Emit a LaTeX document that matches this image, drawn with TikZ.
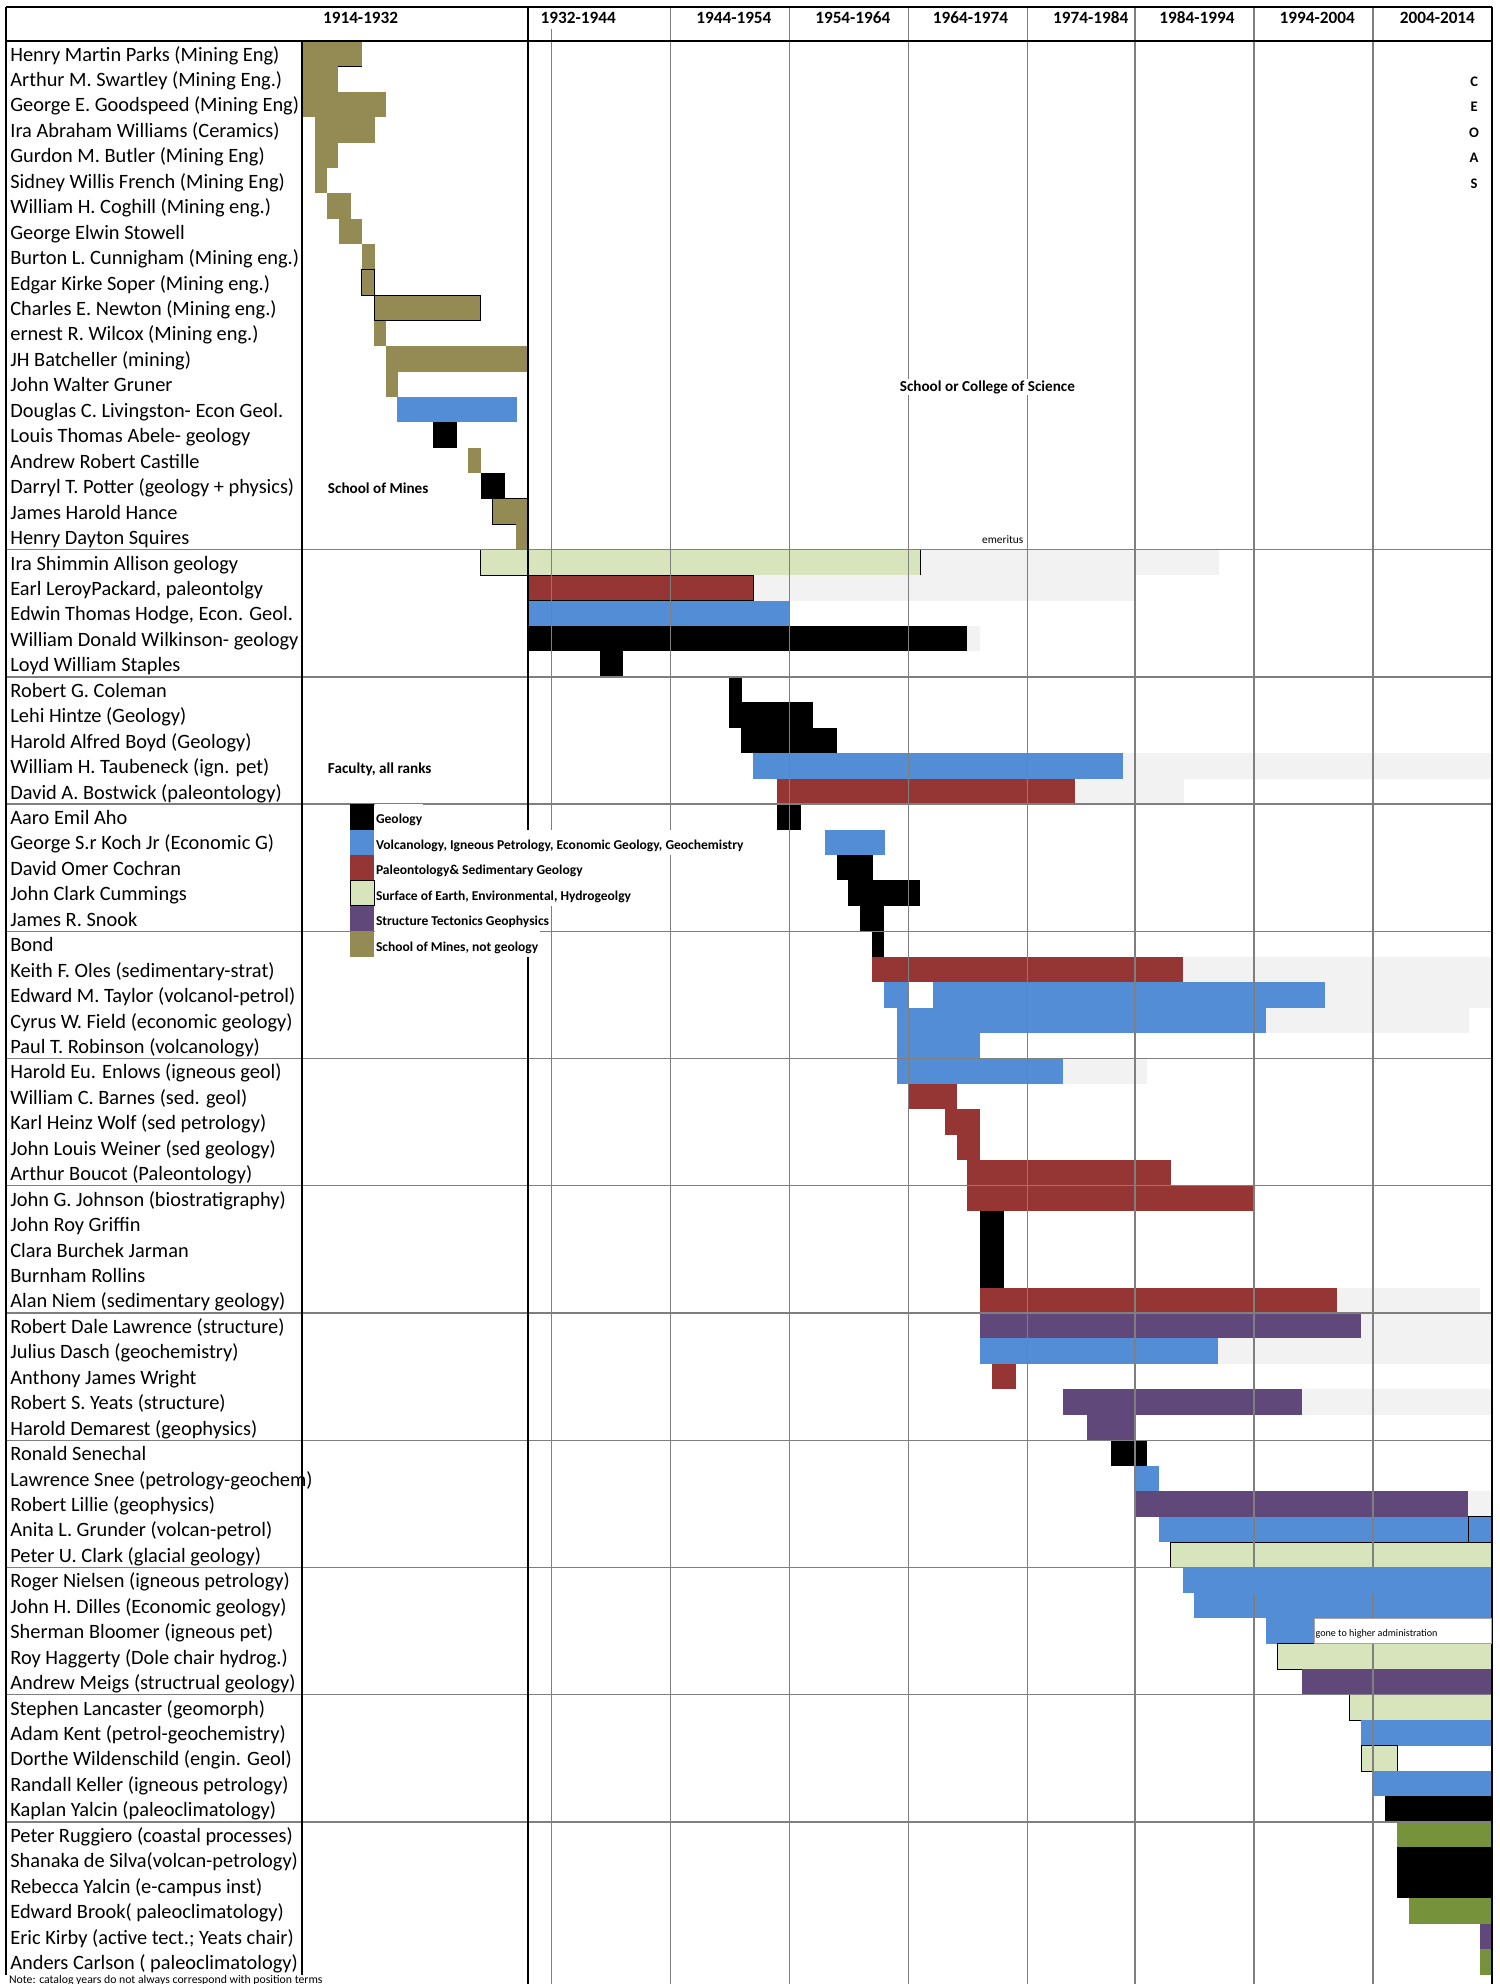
\documentclass[tikz,border=0pt]{standalone}
\usepackage{fontspec}
\setmainfont{Carlito}
\definecolor{minesolive}{HTML}{948A54}
\definecolor{volcblue}{HTML}{538DD5}
\definecolor{paleored}{HTML}{963634}
\definecolor{surfgreen}{HTML}{D8E4BC}
\definecolor{structpurple}{HTML}{60497A}
\definecolor{emergray}{HTML}{F2F2F2}
\definecolor{coastgreen}{HTML}{76933C}
\definecolor{gridgray}{HTML}{7F7F7F}
\tikzset{
  mines/.style={fill=minesolive},
  geo/.style={fill=black},
  volc/.style={fill=volcblue},
  paleo/.style={fill=paleored},
  surf/.style={fill=surfgreen,draw=black,line width=0.7pt},
  struct/.style={fill=structpurple},
  emer/.style={fill=emergray},
  coast/.style={fill=coastgreen},
  boxed/.style={draw=black,line width=0.7pt},
  gridline/.style={draw=gridgray,line width=1pt},
  frameline/.style={draw=black,line width=1.6pt},
  person/.style={anchor=base west,inner sep=0pt,font=\fontsize{16.1}{18}\selectfont},
  yearhead/.style={inner sep=0pt,font=\bfseries\fontsize{13.6}{15}\selectfont},
  chartnote/.style={anchor=base west,inner sep=1pt,fill=white,font=\bfseries\fontsize{12}{13}\selectfont},
  keytext/.style={anchor=base west,inner xsep=1pt,inner ysep=0pt,fill=white,text height=15.7pt,text depth=4.4pt,font=\bfseries\fontsize{10.7}{12}\selectfont},
  ceoas/.style={anchor=base,inner sep=0pt,font=\bfseries\fontsize{11.5}{13}\selectfont}
}
\begin{document}
\begin{tikzpicture}[x=1pt,y=-20.11pt]
 \useasboundingbox (0,-1.601) rectangle (1185,76.37);
 % school of mines
 \fill[mines](239,0) rectangle (286.3,1);
 \draw[black,line width=0.6pt](239,1)--(286.3,1);
 \fill[mines](239,1) rectangle (267.4,2);
 \fill[mines](239,2) rectangle (305.4,3);
 \fill[mines](248.7,3) rectangle (296,4);
 \fill[mines](248.7,4) rectangle (267.4,5);
 \fill[mines](248.7,5) rectangle (258.7,6);
 \fill[mines](258.2,6) rectangle (277.1,7);
 \fill[mines](267.6,7) rectangle (286.3,8);
 \fill[mines](286,8) rectangle (296,9);
 \fill[mines,boxed](286,9) rectangle (296,10);
 \fill[mines,boxed](295.7,10) rectangle (380,11);
 \fill[mines](295.5,11) rectangle (305.4,12);
 \fill[mines](305,12) rectangle (417,13);
 \fill[mines](305,13) rectangle (314.6,14);
 \fill[volc](314.1,14) rectangle (408.6,15);
 \fill[geo](342.5,15) rectangle (361.1,16);
 \fill[mines](370,16) rectangle (380,17);
 \fill[geo](380.3,17) rectangle (399.2,18);
 \fill[mines,boxed](389.2,18) rectangle (417,19);
 \fill[mines](407.9,19) rectangle (417,20);
 % 1932-1954
 \fill[emer](727.5,20) rectangle (963.4,21);
 \fill[surf](379.7,20) rectangle (727.5,21);
 \fill[emer](596,21) rectangle (896.6,22);
 \fill[paleo,boxed](417,21) rectangle (595.5,22);
 \fill[volc](417,22) rectangle (624,23);
 \fill[emer](764.5,23) rectangle (774.7,24);
 \fill[geo](417,23) rectangle (764.5,24);
 \fill[geo](473.8,24) rectangle (492.2,25);
 \fill[geo](576.2,25) rectangle (586.3,26);
 \fill[geo](576.2,26) rectangle (642.4,27);
 \fill[geo](585.6,27) rectangle (661.2,28);
 \fill[emer](887.4,28) rectangle (1179,29);
 \fill[volc](595,28) rectangle (887.4,29);
 \fill[emer](849.4,29) rectangle (935.4,30);
 \fill[paleo](614.1,29) rectangle (849.4,30);
 \fill[geo](614.1,30) rectangle (633,31);
 \fill[volc](651.8,31) rectangle (699.5,32);
 \fill[geo](661.2,32) rectangle (689.8,33);
 \fill[geo](669.9,33) rectangle (727.2,34);
 \fill[geo](679.6,34) rectangle (698.7,35);
 \fill[geo](689,35) rectangle (699,36);
 % 1964-1984
 \fill[emer](934.9,36) rectangle (1179,37);
 \fill[paleo](689.3,36) rectangle (934.9,37);
 \fill[emer](1047.3,37) rectangle (1179,38);
 \fill[volc](699,37) rectangle (718,38);
 \fill[volc](737,37) rectangle (1047.3,38);
 \fill[emer](1000.5,38) rectangle (1161,39);
 \fill[volc](708.8,38) rectangle (1000.5,39);
 \fill[volc](708.8,39) rectangle (774.9,40);
 \fill[emer](839.9,40) rectangle (906.4,41);
 \fill[volc](708.8,40) rectangle (839.9,41);
 \fill[paleo](718,41) rectangle (756,42);
 \fill[paleo](746.5,42) rectangle (774.9,43);
 \fill[paleo](756,43) rectangle (774.9,44);
 \fill[paleo](764.5,44) rectangle (925.4,45);
 \fill[paleo](764.5,45) rectangle (990.8,46);
 \fill[geo](774.3,46) rectangle (793.2,49);
 \fill[emer](1056.5,49) rectangle (1169.4,50);
 \fill[paleo](774.3,49) rectangle (1056.5,50);
 \fill[emer](1075.6,50) rectangle (1179,51);
 \fill[struct](774.3,50) rectangle (1075.6,51);
 \fill[emer](962.3,51) rectangle (1179,52);
 \fill[volc](774.3,51) rectangle (962.3,52);
 \fill[paleo](783.8,52) rectangle (802.9,53);
 \fill[emer](1028.8,53) rectangle (1179,54);
 \fill[struct](840,53) rectangle (1028.8,54);
 \fill[struct](858.8,54) rectangle (896.7,55);
 % 1984-2014
 \fill[geo](877.9,55) rectangle (906.4,56);
 \fill[volc](897.3,56) rectangle (915.8,57);
 \fill[emer](1160,57) rectangle (1179,58);
 \fill[struct](896.7,57) rectangle (1160,58);
 \fill[volc](915.8,58) rectangle (1160,59);
 \fill[volc,boxed](1160.6,58) rectangle (1179,59);
 \fill[surf](925,59) rectangle (1179,60);
 \fill[volc](943.5,61) rectangle (1179,62);
 \fill[volc](1000.5,62) rectangle (1038.5,63);
 \fill[surf](1009.7,63) rectangle (1179,64);
 \fill[struct](1028.8,64) rectangle (1179,65);
 \fill[surf](1066.1,65) rectangle (1179,66);
 \fill[volc](1075.6,66) rectangle (1179,67);
 \fill[surf](1075.6,67) rectangle (1104.1,68);
 \fill[volc](1085.5,68) rectangle (1179,69);
 \fill[geo](1094.4,69) rectangle (1179,70);
 \fill[coast](1104.1,70) rectangle (1179,71);
 \fill[geo](1104.1,71) rectangle (1179,73);
 \fill[coast](1113.5,73) rectangle (1179,74);
 \fill[struct](1169.4,74) rectangle (1179,75);
 \fill[coast](1169.4,75) rectangle (1179,76);
 % grid
 \draw[gridline](436,-0.46)--(436,76.37);
 \draw[gridline](530,-1.33)--(530,76.37);
 \draw[gridline](624,-1.33)--(624,76.37);
 \draw[gridline](718,-1.33)--(718,76.37);
 \draw[gridline](812,-1.33)--(812,76.37);
 \draw[gridline](897,-1.33)--(897,76.37);
 \draw[gridline](991,-1.33)--(991,76.37);
 \draw[gridline](1085,-1.33)--(1085,76.37);
 \draw[gridline](5,20)--(1179,20);
 \draw[gridline](5,25)--(1179,25);
 \draw[gridline](5,30)--(1179,30);
 \draw[gridline](5,35)--(1179,35);
 \draw[gridline](5,40)--(1179,40);
 \draw[gridline](5,45)--(1179,45);
 \draw[gridline](5,50)--(1179,50);
 \draw[gridline](5,55)--(1179,55);
 \draw[gridline](5,60)--(1179,60);
 \draw[gridline](5,65)--(1179,65);
 \draw[gridline](5,70)--(1179,70);
 \fill[volc](934.6,60) rectangle (1179,61);
 % frame
 \draw[frameline](5,-1.33)--(1179,-1.33);
 \draw[frameline](5,0)--(1179,0);
 \draw[frameline](5,-1.33)--(5,76);
 \draw[frameline](239,0)--(239,76);
 \draw[frameline](417,-1.33)--(417,76.37);
 \draw[frameline](1179,-1.33)--(1179,76.37);
 % headings
 \node[yearhead] (h1) at (285,-0.9) {1914-1932};
 \node[yearhead] (h2) at (457,-0.9) {1932-1944};
 \node[yearhead] (h3) at (580,-0.9) {1944-1954};
 \node[yearhead] (h4) at (674,-0.9) {1954-1964};
 \node[yearhead] (h5) at (767,-0.9) {1964-1974};
 \node[yearhead] (h6) at (862,-0.9) {1974-1984};
 \node[yearhead] (h7) at (946,-0.9) {1984-1994};
 \node[yearhead] (h8) at (1041,-0.9) {1994-2004};
 \node[yearhead] (h9) at (1136,-0.9) {2004-2014};
 % faculty
 \node[person] (n1) at (8,0.8) {Henry Martin Parks (Mining Eng)};
 \node[person] (n2) at (8,1.8) {Arthur M. Swartley (Mining Eng.)};
 \node[person] (n3) at (8,2.8) {George E. Goodspeed (Mining Eng)};
 \node[person] (n4) at (8,3.8) {Ira Abraham Williams (Ceramics)};
 \node[person] (n5) at (8,4.8) {Gurdon M. Butler (Mining Eng)};
 \node[person] (n6) at (8,5.8) {Sidney Willis French (Mining Eng)};
 \node[person] (n7) at (8,6.8) {William H. Coghill (Mining eng.)};
 \node[person] (n8) at (8,7.8) {George Elwin Stowell};
 \node[person] (n9) at (8,8.8) {Burton L. Cunnigham (Mining eng.)};
 \node[person] (n10) at (8,9.8) {Edgar Kirke Soper (Mining eng.)};
 \node[person] (n11) at (8,10.8) {Charles E. Newton (Mining eng.)};
 \node[person] (n12) at (8,11.8) {ernest R. Wilcox (Mining eng.)};
 \node[person] (n13) at (8,12.8) {JH Batcheller (mining)};
 \node[person] (n14) at (8,13.8) {John Walter Gruner};
 \node[person] (n15) at (8,14.8) {Douglas C. Livingston- Econ Geol.};
 \node[person] (n16) at (8,15.8) {Louis Thomas Abele- geology};
 \node[person] (n17) at (8,16.8) {Andrew Robert Castille};
 \node[person] (n18) at (8,17.8) {Darryl T. Potter (geology + physics)};
 \node[person] (n19) at (8,18.8) {James Harold Hance};
 \node[person] (n20) at (8,19.8) {Henry Dayton Squires};
 \node[person] (n21) at (8,20.8) {Ira Shimmin Allison geology};
 \node[person] (n22) at (8,21.8) {Earl LeroyPackard, paleontolgy};
 \node[person] (n23) at (8,22.8) {Edwin Thomas Hodge, Econ. Geol.};
 \node[person] (n24) at (8,23.8) {William Donald Wilkinson- geology};
 \node[person] (n25) at (8,24.8) {Loyd William Staples};
 \node[person] (n26) at (8,25.8) {Robert G. Coleman};
 \node[person] (n27) at (8,26.8) {Lehi Hintze (Geology)};
 \node[person] (n28) at (8,27.8) {Harold Alfred Boyd (Geology)};
 \node[person] (n29) at (8,28.8) {William H. Taubeneck (ign. pet)};
 \node[person] (n30) at (8,29.8) {David A. Bostwick (paleontology)};
 \node[person] (n31) at (8,30.8) {Aaro Emil Aho};
 \node[person] (n32) at (8,31.8) {George S.r Koch Jr (Economic G)};
 \node[person] (n33) at (8,32.8) {David Omer Cochran};
 \node[person] (n34) at (8,33.8) {John Clark Cummings};
 \node[person] (n35) at (8,34.8) {James R. Snook};
 \node[person] (n36) at (8,35.8) {Bond};
 \node[person] (n37) at (8,36.8) {Keith F. Oles (sedimentary-strat)};
 \node[person] (n38) at (8,37.8) {Edward M. Taylor (volcanol-petrol)};
 \node[person] (n39) at (8,38.8) {Cyrus W. Field (economic geology)};
 \node[person] (n40) at (8,39.8) {Paul T. Robinson (volcanology)};
 \node[person] (n41) at (8,40.8) {Harold Eu. Enlows (igneous geol)};
 \node[person] (n42) at (8,41.8) {William C. Barnes (sed. geol)};
 \node[person] (n43) at (8,42.8) {Karl Heinz Wolf (sed petrology)};
 \node[person] (n44) at (8,43.8) {John Louis Weiner (sed geology)};
 \node[person] (n45) at (8,44.8) {Arthur Boucot (Paleontology)};
 \node[person] (n46) at (8,45.8) {John G. Johnson (biostratigraphy)};
 \node[person] (n47) at (8,46.8) {John Roy Griffin};
 \node[person] (n48) at (8,47.8) {Clara Burchek Jarman};
 \node[person] (n49) at (8,48.8) {Burnham Rollins};
 \node[person] (n50) at (8,49.8) {Alan Niem (sedimentary geology)};
 \node[person] (n51) at (8,50.8) {Robert Dale Lawrence (structure)};
 \node[person] (n52) at (8,51.8) {Julius Dasch (geochemistry)};
 \node[person] (n53) at (8,52.8) {Anthony James Wright};
 \node[person] (n54) at (8,53.8) {Robert S. Yeats (structure)};
 \node[person] (n55) at (8,54.8) {Harold Demarest (geophysics)};
 \node[person] (n56) at (8,55.8) {Ronald Senechal};
 \node[person] (n57) at (8,56.8) {Lawrence Snee (petrology-geochem)};
 \node[person] (n58) at (8,57.8) {Robert Lillie (geophysics)};
 \node[person] (n59) at (8,58.8) {Anita L. Grunder (volcan-petrol)};
 \node[person] (n60) at (8,59.8) {Peter U. Clark (glacial geology)};
 \node[person] (n61) at (8,60.8) {Roger Nielsen (igneous petrology)};
 \node[person] (n62) at (8,61.8) {John H. Dilles (Economic geology)};
 \node[person] (n63) at (8,62.8) {Sherman Bloomer (igneous pet)};
 \node[person] (n64) at (8,63.8) {Roy Haggerty (Dole chair hydrog.)};
 \node[person] (n65) at (8,64.8) {Andrew Meigs (structrual geology)};
 \node[person] (n66) at (8,65.8) {Stephen Lancaster (geomorph)};
 \node[person] (n67) at (8,66.8) {Adam Kent (petrol-geochemistry)};
 \node[person] (n68) at (8,67.8) {Dorthe Wildenschild (engin. Geol)};
 \node[person] (n69) at (8,68.8) {Randall Keller (igneous petrology)};
 \node[person] (n70) at (8,69.8) {Kaplan Yalcin (paleoclimatology)};
 \node[person] (n71) at (8,70.8) {Peter Ruggiero (coastal processes)};
 \node[person] (n72) at (8,71.8) {Shanaka de Silva(volcan-petrology)};
 \node[person] (n73) at (8,72.8) {Rebecca Yalcin (e-campus inst)};
 \node[person] (n74) at (8,73.8) {Edward Brook( paleoclimatology)};
 \node[person] (n75) at (8,74.8) {Eric Kirby (active tect.; Yeats chair)};
 \node[person] (n76) at (8,75.8) {Anders Carlson ( paleoclimatology)};
 % notes in the chart
 \node[chartnote] (mines) at (258,17.78) {School of Mines};
 \node[chartnote] (ranks) at (258,28.78) {Faculty, all ranks};
 \node[chartnote] (college) at (710,13.78) {School or College of Science};
 \node[anchor=base west,inner sep=0pt,font=\fontsize{9}{10}\selectfont] (emeritus) at (776,19.77) {emeritus};
 \node[ceoas] (c1) at (1165,1.8) {C};
 \node[ceoas] (c2) at (1165,2.8) {E};
 \node[ceoas] (c3) at (1165,3.8) {O};
 \node[ceoas] (c4) at (1165,4.8) {A};
 \node[ceoas] (c5) at (1165,5.8) {S};
 \draw[draw=gridgray!70,line width=0.6pt,fill=white](1038.5,62) rectangle (1179,63);
 \node[anchor=base west,inner sep=0pt,font=\fontsize{8}{9}\selectfont] (gone) at (1039.5,62.72) {gone to higher administration};
 % legend
 \fill[geo](276.6,30) rectangle (295.7,31);
 \fill[volc](276.6,31) rectangle (295.7,32);
 \fill[paleo](276.6,32) rectangle (295.7,33);
 \fill[surf](276.6,33) rectangle (295.7,34);
 \fill[struct](276.6,34) rectangle (295.7,35);
 \fill[mines](276.6,35) rectangle (295.7,36);
 \node[keytext] (k1) at (296,30.78) {Geology};
 \node[keytext] (k2) at (296,31.78) {Volcanology, Igneous Petrology, Economic Geology, Geochemistry};
 \node[keytext] (k3) at (296,32.78) {Paleontology\& Sedimentary Geology};
 \node[keytext] (k4) at (296,33.78) {Surface of Earth, Environmental, Hydrogeolgy};
 \node[keytext] (k5) at (296,34.78) {Structure Tectonics Geophysics};
 \node[keytext] (k6) at (296,35.78) {School of Mines, not geology};
 \node[anchor=base west,inner sep=0pt,font=\fontsize{9.3}{10}\selectfont] (note) at (7,76.33) {Note: catalog years do not always correspond with position terms};
\end{tikzpicture}
\end{document}
